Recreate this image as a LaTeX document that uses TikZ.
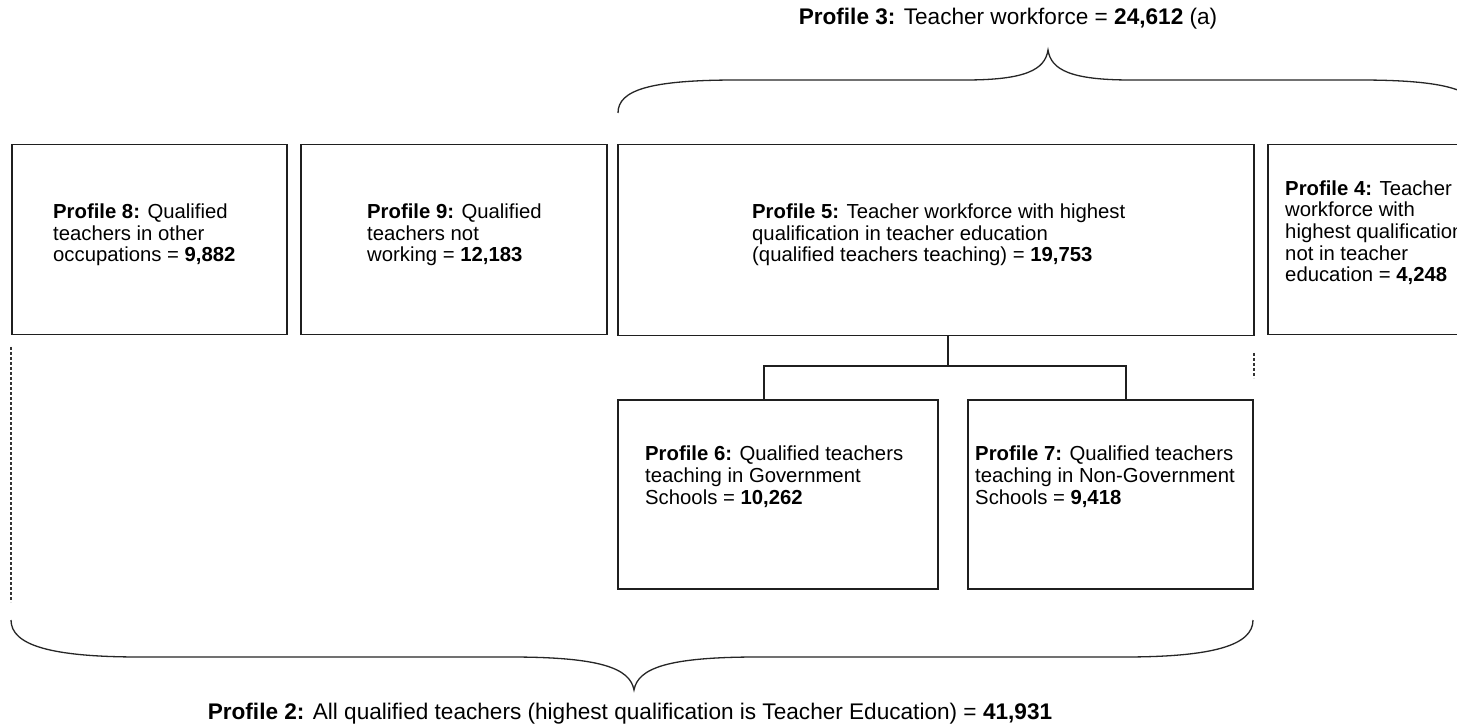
\documentclass[tikz,border=0pt]{standalone}
\usepackage{fontspec}
\setmainfont[Ligatures=NoCommon]{Liberation Sans}
\begin{document}
\begin{tikzpicture}[x=1pt,y=-1pt,
  box/.style={draw=black!88, line width=1.5pt, inner sep=0pt, anchor=north west},
  txt/.style={font=\fontsize{20.3}{21.7}\selectfont, align=left, inner sep=0pt, anchor=base west},
  lbl/.style={font=\fontsize{22.6}{24}\selectfont, inner sep=0pt, anchor=base},
  conn/.style={draw=black!88, line width=1.5pt},
  brace/.style={draw=black!85, line width=1.3pt},
  guide/.style={draw=black!80, line width=1.2pt, dash pattern=on 3pt off 2pt}]
\useasboundingbox (0,0) rectangle (1457,727);
\fill[white] (0,0) rectangle (1457,727);

% profile boxes
\node[box, minimum width=275pt, minimum height=190pt] (b8) at (11,144) {};
\node[box, minimum width=306pt, minimum height=190pt] (b9) at (300,144) {};
\node[box, minimum width=636pt, minimum height=191pt] (b5) at (617,144) {};
\node[box, minimum width=333pt, minimum height=190pt] (b4) at (1267,144) {};
\node[box, minimum width=320pt, minimum height=189pt] (b6) at (617,399) {};
\node[box, minimum width=285pt, minimum height=189pt] (b7) at (967,399) {};

% box texts (anchored at the baseline of their last line)
\node[txt] (t8) at (53,262) {\textbf{Profile 8:} Qualified\\teachers in other\\occupations = \textbf{9,882}};
\node[txt] (t9) at (367,262) {\textbf{Profile 9:} Qualified\\teachers not\\working = \textbf{12,183}};
\node[txt] (t5) at (752,262) {\textbf{Profile 5:} Teacher workforce with highest\\qualification in teacher education\\(qualified teachers teaching) = \textbf{19,753}};
\node[txt] (t4) at (1285,282) {\textbf{Profile 4:} Teacher\\workforce with\\highest qualification\\not in teacher\\education = \textbf{4,248}};
\node[txt] (t6) at (645,504) {\textbf{Profile 6:} Qualified teachers\\teaching in Government\\Schools = \textbf{10,262}};
\node[txt] (t7) at (975,504) {\textbf{Profile 7:} Qualified teachers\\teaching in Non-Government\\Schools = \textbf{9,418}};

% split of profile 5 into profiles 6 and 7
\coordinate (jm) at (948,366);
\coordinate (jl) at (764,366);
\coordinate (jr) at (1126,366);
\draw[conn] (b5.south -| jm) -- (jm);
\draw[conn] (b6.north -| jl) -- (jl) -- (jr) -- (b7.north -| jr);

% dotted extent markers
\coordinate (gl1) at (11,347);
\coordinate (gl2) at (11,602);
\coordinate (gr1) at (1254,353);
\coordinate (gr2) at (1254,378);
\draw[guide] (gl1) -- (gl2);
\draw[guide] (gr1) -- (gr2);

% top brace (profile 3)
\draw[brace] (618,113) .. controls (618,90) and (650,80) .. (737,80)
  -- (965,80) .. controls (1025,80) and (1045,70) .. (1048,50)
  .. controls (1051,70) and (1071,80) .. (1131,80)
  -- (1359,80) .. controls (1446,80) and (1478,90) .. (1478,113);
\node[lbl] (p3) at (1008,25) {\textbf{Profile 3:} Teacher workforce = \textbf{24,612} (a)};

% bottom brace (profile 2)
\draw[brace] (11,620) .. controls (11,645) and (50,657) .. (140,657)
  -- (510,657) .. controls (600,657) and (630,668) .. (634,690)
  .. controls (638,668) and (668,657) .. (758,657)
  -- (1124,657) .. controls (1214,657) and (1253,645) .. (1253,620);
\node[lbl] (p2) at (630,719) {\textbf{Profile 2:} All qualified teachers (highest qualification is Teacher Education) = \textbf{41,931}};
\end{tikzpicture}
\end{document}
